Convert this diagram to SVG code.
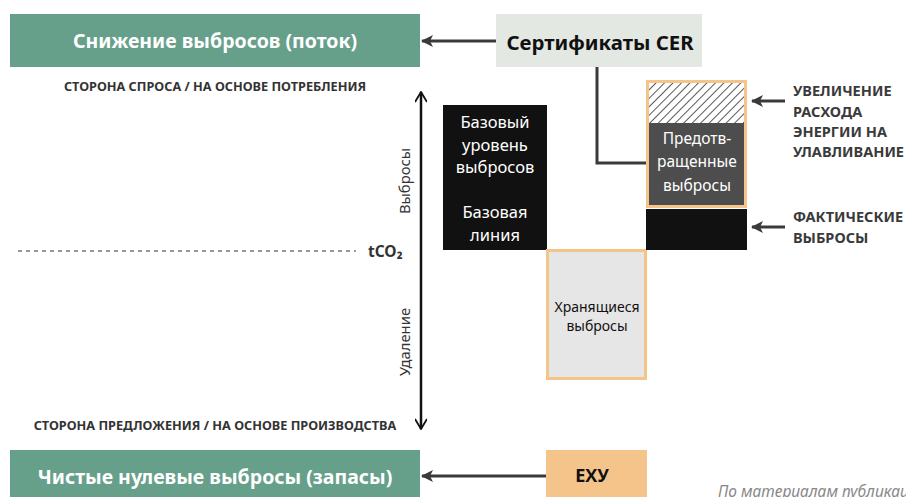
<svg xmlns="http://www.w3.org/2000/svg" width="906" height="497" viewBox="0 0 906 497">
<style>
text{font-family:"Noto Sans","Open Sans","Liberation Sans",sans-serif}
.hdr{font-size:19.5px;font-weight:bold;fill:#fff;text-anchor:middle}
.cap{font-size:12.7px;font-weight:bold;fill:#333;text-anchor:middle}
.lbl{font-size:14.5px;font-weight:bold;fill:#3a3a3a}
.wt{font-size:16.5px;fill:#fff;text-anchor:middle}
.ax{font-size:14.8px;fill:#333;text-anchor:middle}
.conn{stroke:#3a3a3a;stroke-width:3;fill:none}
</style>
<defs>
<marker id="ah" viewBox="0 0 12 12" refX="11" refY="6" markerWidth="12" markerHeight="12" orient="auto-start-reverse" markerUnits="userSpaceOnUse">
<path d="M0,0 L12,6 L0,12 L3,6 Z" fill="#3a3a3a"/>
</marker>
<marker id="chev" viewBox="0 0 12 12" refX="11" refY="6" markerWidth="12" markerHeight="12" orient="auto-start-reverse" markerUnits="userSpaceOnUse">
<path d="M1,0 L11,6 L1,12" fill="none" stroke="#111" stroke-width="1.8"/>
</marker>
<pattern id="hatch" width="6" height="6" patternUnits="userSpaceOnUse" patternTransform="rotate(45)">
<rect width="6" height="6" fill="#fff"/>
<line x1="0" y1="0" x2="0" y2="6" stroke="#111" stroke-width="1.4"/>
</pattern>
</defs>

<g id="flow">
<rect x="10" y="14" width="410" height="53" fill="#67a08a"/>
<text class="hdr" x="215" y="48">Снижение выбросов (поток)</text>
</g>
<g id="cer">
<rect x="496" y="14" width="206" height="53" fill="#e3e8e3"/>
<text x="600" y="50" font-size="20.4" font-weight="bold" fill="#111" text-anchor="middle">Сертификаты CER</text>
</g>
<text class="cap" x="215" y="91">СТОРОНА СПРОСА / НА ОСНОВЕ ПОТРЕБЛЕНИЯ</text>
<text class="cap" x="215" y="430">СТОРОНА ПРЕДЛОЖЕНИЯ / НА ОСНОВЕ ПРОИЗВОДСТВА</text>

<g id="axis">
<line x1="421" y1="92" x2="421" y2="429" stroke="#111" stroke-width="2.5" marker-start="url(#chev)" marker-end="url(#chev)"/>
<text class="ax" transform="translate(410,181) rotate(-90)">Выбросы</text>
<text class="ax" transform="translate(410,342) rotate(-90)">Удаление</text>
<line x1="18" y1="251" x2="356" y2="251" stroke="#333" stroke-width="1" stroke-dasharray="4,4"/>
<text x="368" y="257" font-size="15.5" font-weight="bold" fill="#333">tCO₂</text>
</g>

<g id="baseline">
<rect x="443" y="105" width="104" height="145" fill="#111"/>
<text class="wt" x="495" y="128">Базовый</text>
<text class="wt" x="495" y="151">уровень</text>
<text class="wt" x="495" y="173">выбросов</text>
<text class="wt" x="495" y="218">Базовая</text>
<text class="wt" x="495" y="241">линия</text>
</g>

<g id="stored">
<rect x="547.5" y="250.5" width="98" height="128" fill="#e6e6e6" stroke="#f5c48a" stroke-width="3"/>
<text x="597" y="312" font-size="14" fill="#111" text-anchor="middle">Хранящиеся</text>
<text x="597" y="331" font-size="14" fill="#111" text-anchor="middle">выбросы</text>
</g>

<g id="avoided">
<rect x="647.5" y="81.5" width="98" height="125" fill="#4d4d4d" stroke="#f5c48a" stroke-width="3"/>
<rect x="649" y="83" width="95" height="40" fill="url(#hatch)"/>
<text class="wt" x="697" y="144" style="font-size:15.5px">Предотв-</text>
<text class="wt" x="697" y="167" style="font-size:15.5px">ращенные</text>
<text class="wt" x="697" y="191" style="font-size:15.5px">выбросы</text>
</g>
<g id="actual">
<rect x="646" y="209" width="101" height="41" fill="#111"/>
</g>

<g id="labels">
<text class="lbl" x="793" y="96">УВЕЛИЧЕНИЕ</text>
<text class="lbl" x="793" y="117">РАСХОДА</text>
<text class="lbl" x="793" y="137">ЭНЕРГИИ НА</text>
<text class="lbl" x="793" y="157">УЛАВЛИВАНИЕ</text>
<text class="lbl" x="793" y="222">ФАКТИЧЕСКИЕ</text>
<text class="lbl" x="793" y="243">ВЫБРОСЫ</text>
</g>

<g id="stock">
<rect x="10" y="450" width="410" height="50" fill="#67a08a"/>
<text class="hdr" x="215" y="484">Чистые нулевые выбросы (запасы)</text>
</g>
<g id="exu">
<rect x="546" y="450" width="101" height="50" fill="#f5c48a"/>
<text x="592" y="482" font-size="18" font-weight="bold" fill="#111" text-anchor="middle">ЕХУ</text>
</g>

<g id="connectors">
<line class="conn" x1="496" y1="41" x2="422" y2="41" marker-end="url(#ah)"/>
<polyline class="conn" points="597,67 597,163 646,163" stroke-width="2.5"/>
<line class="conn" x1="785" y1="101" x2="752" y2="101" marker-end="url(#ah)"/>
<line class="conn" x1="785" y1="227" x2="752" y2="227" marker-end="url(#ah)"/>
<line class="conn" x1="546" y1="476" x2="422" y2="476" marker-end="url(#ah)"/>
</g>

<text x="718" y="497" font-size="15.5" font-style="italic" fill="#888">По материалам публикац</text>
</svg>
